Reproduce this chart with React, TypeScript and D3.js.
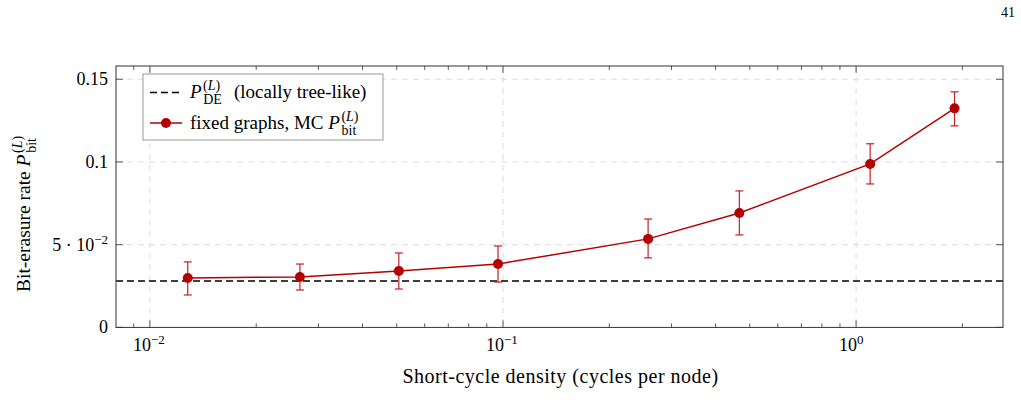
import * as d3 from 'd3';

// short-cycle density per node (x) and measured bit-erasure rate
const density = [0.0128, 0.0266, 0.0507, 0.0968, 0.2576, 0.467, 1.096, 1.9];
const pBit = [0.0299, 0.0305, 0.0341, 0.0383, 0.0535, 0.0692, 0.0988, 0.1324];
const pBitHigh = [0.0396, 0.0383, 0.045, 0.0492, 0.0655, 0.0825, 0.111, 0.1424];
const pBitLow = [0.0196, 0.0226, 0.0232, 0.0274, 0.042, 0.0559, 0.0867, 0.1218];
// density-evolution prediction for locally tree-like graphs
const pDE = 0.0281;

const xMajor = [1e-2, 1e-1, 1e0];
const xMajorExp = ['−2', '−1', '0'];
const yTicks = [0, 0.05, 0.1, 0.15];

const W = 1021;
const H = 419;
const left = 116;
const right = 1003;
const top = 66;
const bottom = 327.4;

const RED = '#b30000';
const FONT = "'Liberation Serif', 'DejaVu Serif', 'Noto Serif', serif";

// italic P with (L) above and a roman index below, as tspans in a text run
function mathP(sub: string, size: number, supW: number) {
  const s = Math.round(size * 0.72);
  return [
    <tspan key="p" fontStyle="italic">P</tspan>,
    <tspan key="sup" fontSize={s} dx={1.5} dy={-size * 0.42}>
      (<tspan fontStyle="italic">L</tspan>)
    </tspan>,
    <tspan key="sub" fontSize={s} dx={-supW - 1} dy={size * 0.74}>{sub}</tspan>,
  ];
}

export default function App() {
  const x = d3.scaleLog().domain([Math.pow(10, -2.096), Math.pow(10, 0.416)]).range([left, right]);
  const y = d3.scaleLinear().domain([0, 0.158]).range([bottom, top]);

  const minor: number[] = [];
  for (let k = -3; k <= 0; k++) {
    for (let m = 2; m <= 9; m++) {
      const v = m * Math.pow(10, k);
      if (v > x.domain()[0] && v < x.domain()[1]) minor.push(v);
    }
  }

  const line = d3
    .line<number>()
    .x((_, i) => x(density[i]))
    .y(d => y(d));

  return (
    <svg width={W} height={H} style={{ position: 'absolute', left: 0, top: 0, background: '#fff' }}>
      <text x={1015} y={17} fontSize={14} fontFamily={FONT} textAnchor="end">41</text>

      {/* grid */}
      <g stroke="#dcdcdc" strokeWidth={1} strokeDasharray="6,5">
        {xMajor.map(v => (
          <line key={v} x1={x(v)} x2={x(v)} y1={top} y2={bottom} />
        ))}
        {yTicks.slice(1).map(v => (
          <line key={v} x1={left} x2={right} y1={y(v)} y2={y(v)} />
        ))}
      </g>

      {/* ticks, inward on all sides */}
      <g stroke="#333" strokeWidth={0.8}>
        {minor.map(v => (
          <g key={v}>
            <line x1={x(v)} x2={x(v)} y1={bottom} y2={bottom - 4} />
            <line x1={x(v)} x2={x(v)} y1={top} y2={top + 4} />
          </g>
        ))}
        {xMajor.map(v => (
          <g key={v}>
            <line x1={x(v)} x2={x(v)} y1={bottom} y2={bottom - 7} />
            <line x1={x(v)} x2={x(v)} y1={top} y2={top + 7} />
          </g>
        ))}
        {yTicks.map(v => (
          <g key={v}>
            <line x1={left} x2={left + 7} y1={y(v)} y2={y(v)} />
            <line x1={right} x2={right - 7} y1={y(v)} y2={y(v)} />
          </g>
        ))}
      </g>

      {/* DE reference */}
      <line x1={left} x2={right} y1={y(pDE)} y2={y(pDE)} stroke="#000" strokeWidth={1.5} strokeDasharray="7,4" />

      {/* MC series */}
      <path d={line(pBit) || ''} fill="none" stroke={RED} strokeWidth={1.5} />
      <g stroke="#c42020" strokeWidth={1.2}>
        {density.map((d, i) => (
          <g key={d}>
            <line x1={x(d)} x2={x(d)} y1={y(pBitLow[i])} y2={y(pBitHigh[i])} />
            <line x1={x(d) - 4} x2={x(d) + 4} y1={y(pBitLow[i])} y2={y(pBitLow[i])} />
            <line x1={x(d) - 4} x2={x(d) + 4} y1={y(pBitHigh[i])} y2={y(pBitHigh[i])} />
          </g>
        ))}
      </g>
      {density.map((d, i) => (
        <circle key={d} cx={x(d)} cy={y(pBit[i])} r={5} fill={RED} />
      ))}

      {/* frame */}
      <rect x={left} y={top} width={right - left} height={bottom - top} fill="none" stroke="#333" strokeWidth={1} />

      {/* y tick labels */}
      <g fontFamily={FONT} fontSize={18} textAnchor="end">
        <text x={108} y={y(0.15) + 6}>0.15</text>
        <text x={108} y={y(0.1) + 6}>0.1</text>
        <text x={108} y={y(0.05) + 6}>
          5 · 10<tspan fontSize={13} dy={-7}>−2</tspan>
        </text>
        <text x={108} y={y(0) + 6}>0</text>
      </g>

      {/* x tick labels */}
      <g fontFamily={FONT} fontSize={18}>
        {xMajor.map((v, i) => (
          <text key={v} x={x(v) - 17} y={351}>
            10<tspan fontSize={13} dy={-7}>{xMajorExp[i]}</tspan>
          </text>
        ))}
      </g>

      <text
        x={(left + right) / 2 + 1}
        y={383}
        fontFamily={FONT}
        fontSize={20}
        letterSpacing={0.5}
        textAnchor="middle"
      >
        Short-cycle density (cycles per node)
      </text>

      {/* y label */}
      <text transform="translate(30,292) rotate(-90)" x={0} y={0} fontFamily={FONT} fontSize={19.5}>
        Bit-erasure rate{' '}
        {mathP('bit', 19.5, 16)}
      </text>

      {/* legend */}
      <rect x={143} y={74} width={240} height={66} fill="#fff" stroke="#999" strokeWidth={1} />
      <line x1={150} x2={182} y1={92.5} y2={92.5} stroke="#000" strokeWidth={1.5} strokeDasharray="7,4" />
      <text x={190} y={98} fontFamily={FONT} fontSize={19}>
        {mathP('DE', 19, 16)}
        <tspan x={234} y={98}>(locally tree-like)</tspan>
      </text>
      <line x1={150} x2={182} y1={123} y2={123} stroke={RED} strokeWidth={1.5} />
      <circle cx={166} cy={123} r={5} fill={RED} />
      <text x={190} y={129} fontFamily={FONT} fontSize={19}>
        fixed graphs, MC{' '}
        {mathP('bit', 19, 16)}
      </text>
    </svg>
  );
}
